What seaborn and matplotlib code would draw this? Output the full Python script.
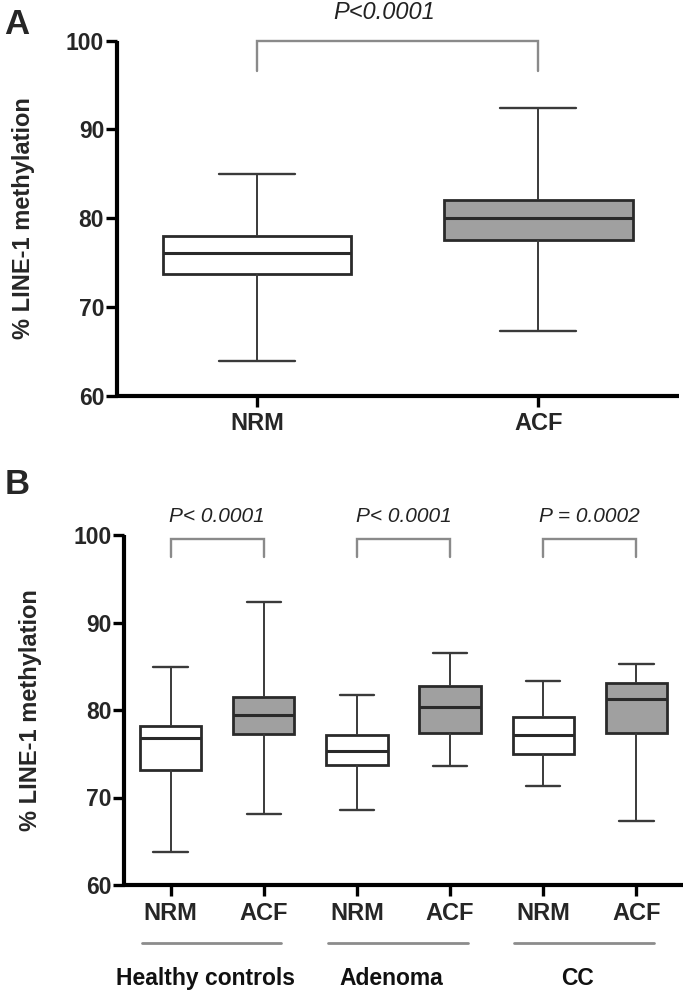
import numpy as np
import pandas as pd
import matplotlib
matplotlib.use("Agg")
import matplotlib.pyplot as plt
import matplotlib.transforms as mtransforms
import seaborn as sns

# ---------------- data (five-number summaries) ----------------
# order of values: min whisker, Q1, median, Q3, max whisker
tissues = ["NRM", "ACF"]
a_nrm = [63.9, 73.7, 76.05, 78.0, 85.0]
a_acf = [67.3, 77.5, 80.0, 82.1, 92.4]
a_pvalue = "P<0.0001"

groups = ["Healthy controls", "Adenoma", "CC"]
b_hc_nrm = [63.8, 73.2, 76.8, 78.2, 84.9]
b_hc_acf = [68.1, 77.3, 79.4, 81.5, 92.4]
b_ad_nrm = [68.6, 73.7, 75.3, 77.2, 81.7]
b_ad_acf = [73.6, 77.4, 80.4, 82.8, 86.5]
b_cc_nrm = [71.3, 75.0, 77.1, 79.2, 83.3]
b_cc_acf = [67.3, 77.4, 81.3, 83.1, 85.3]
b_pvalues = ["P< 0.0001", "P< 0.0001", "P = 0.0002"]

y_ticks = [60, 70, 80, 90, 100]
y_label = "% LINE-1 methylation"
panel_labels = ["A", "B"]

# ---------------- tables ----------------
dfA = pd.DataFrame({
    "tissue": ["NRM"] * len(a_nrm) + ["ACF"] * len(a_acf),
    "value": a_nrm + a_acf,
})

b_series = [
    ("Healthy controls", "NRM", b_hc_nrm), ("Healthy controls", "ACF", b_hc_acf),
    ("Adenoma", "NRM", b_ad_nrm), ("Adenoma", "ACF", b_ad_acf),
    ("CC", "NRM", b_cc_nrm), ("CC", "ACF", b_cc_acf),
]
rows = []
for g, t, vals in b_series:
    for v in vals:
        rows.append({"group": g, "tissue": t, "key": f"{g}|{t}", "value": v})
dfB = pd.DataFrame(rows)
b_order = [f"{g}|{t}" for g, t, _ in b_series]

# ---------------- style ----------------
sns.set_style("ticks")
plt.rcParams["font.family"] = ["Liberation Sans", "DejaVu Sans"]

palette = {"NRM": "#ffffff", "ACF": "#a0a0a0"}
edge = "#2a2a2a"
box_kw = dict(
    whis=(0, 100), saturation=1, dodge=False, legend=False, fliersize=0,
    linecolor=edge, linewidth=1.5,
    boxprops=dict(linewidth=2.0, edgecolor=edge),
    medianprops=dict(linewidth=2.2, color=edge),
    whiskerprops=dict(linewidth=1.4, color="#3a3a3a"),
    capprops=dict(linewidth=1.7, color="#3a3a3a"),
)

W, H = 685, 994
fig = plt.figure(figsize=(W / 100, H / 100), dpi=100)
axA = fig.add_axes([116.7 / W, 1 - 395.7 / H, (679 - 116.7) / W, (395.7 - 40.7) / H])
axB = fig.add_axes([124 / W, 1 - 885 / H, (683 - 124) / W, (885 - 535) / H])

sns.boxplot(data=dfA, x="tissue", y="value", hue="tissue", order=tissues,
            palette=palette, width=0.67, ax=axA, **box_kw)
sns.boxplot(data=dfB, x="key", y="value", hue="tissue", order=b_order,
            palette=palette, width=0.66, ax=axB, **box_kw)


def set_caps(ax, w):
    for cont in ax.containers:
        caps = getattr(cont, "caps", None)
        if caps is None:
            continue
        for cap in caps:
            x = np.asarray(cap.get_xdata(), dtype=float)
            c = x.mean()
            cap.set_xdata([c - w / 2, c + w / 2])


set_caps(axA, 0.27)
set_caps(axB, 0.37)


def style_axis(ax, xlim, xticklabels, ylab_x):
    ax.set_xlim(*xlim)
    ax.set_ylim(60, 100)
    ax.set_yticks(y_ticks)
    ax.set_xticks(range(len(xticklabels)))
    ax.set_xticklabels(xticklabels)
    sns.despine(ax=ax)
    for s in ["left", "bottom"]:
        ax.spines[s].set_linewidth(3.0)
        ax.spines[s].set_color("black")
        ax.spines[s].set_capstyle("butt")
    ax.tick_params(axis="y", length=8, width=2.4, pad=1, labelsize=16.5, color="black")
    ax.tick_params(axis="x", length=8, width=2.4, pad=4, labelsize=17, color="black")
    for lbl in ax.get_xticklabels() + ax.get_yticklabels():
        lbl.set_fontweight("bold")
    ax.set_xlabel("")
    ax.set_ylabel(y_label, fontsize=17, fontweight="bold")
    ax.yaxis.label.set_va("center")
    ax.yaxis.set_label_coords(ylab_x, 0.5)
    ax.set_facecolor("white")


style_axis(axA, (-0.5, 1.5), tissues, -0.165)
style_axis(axB, (-0.5, 5.5), [t for _, t, _ in b_series], -0.168)


def bracket(ax, x0, x1, ytop, yleg):
    ax.plot([x0, x0, x1, x1], [yleg, ytop, ytop, yleg], color="#8a8a8a",
            lw=1.7, clip_on=False, solid_joinstyle="miter", zorder=5)


# panel A annotation
bracket(axA, 0, 1, 100, 96.6)
axA.text(0.45, 103.15, a_pvalue, ha="center", va="center", fontsize=17,
         style="italic", color="#222222", clip_on=False)

# panel B annotations
trans_b = mtransforms.blended_transform_factory(axB.transData, axB.transAxes)
for i, (g, p) in enumerate(zip(groups, b_pvalues)):
    x0, x1 = 2 * i, 2 * i + 1
    bracket(axB, x0, x1, 99.6, 97.5)
    axB.text(x0 + 0.5, 102.1, p, ha="center", va="center", fontsize=15,
             style="italic", color="#222222", clip_on=False)
    axB.plot([x0 - 0.31, x1 + 0.19], [-0.1666, -0.1666], transform=trans_b,
             color="#8c8c8c", lw=2.0, clip_on=False)
    axB.text(x0 + 0.37, -0.267, g, transform=trans_b, ha="center", va="center",
             fontsize=16.5, fontweight="bold", color="#111111")

fig.text(16.7 / W, 1 - 24 / H, panel_labels[0], fontsize=25, fontweight="bold",
         ha="center", va="center")
fig.text(17 / W, 1 - 484 / H, panel_labels[1], fontsize=25, fontweight="bold",
         ha="center", va="center")

fig.savefig("out.png", dpi=100, facecolor="white")
